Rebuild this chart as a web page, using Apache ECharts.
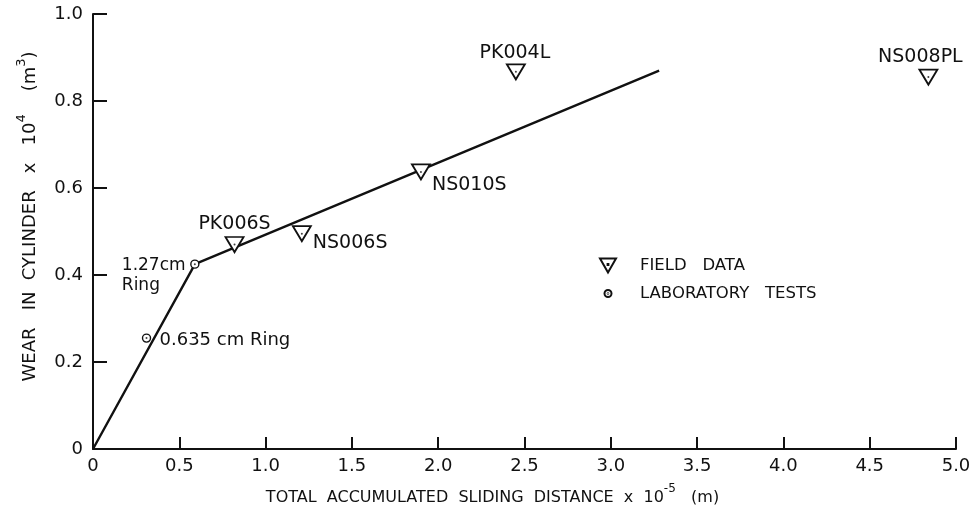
<!DOCTYPE html>
<html>
<head>
<meta charset="utf-8">
<script src="https://cdn.jsdelivr.net/npm/echarts@6/dist/echarts.min.js"></script>
<style>
html,body{margin:0;padding:0;background:#fff;}
#chart{width:974px;height:515px;}
</style>
</head>
<body>
<div id="chart"></div>
<script>
// ---- data ----
const xTicks = [0, 0.5, 1.0, 1.5, 2.0, 2.5, 3.0, 3.5, 4.0, 4.5, 5.0];
const yTicks = [0, 0.2, 0.4, 0.6, 0.8, 1.0];
const fitLineX = [0, 0.57, 0.59, 3.28];
const fitLineY = [0, 0.41, 0.425, 0.87];
const fieldNames = ['PK006S', 'NS006S', 'NS010S', 'PK004L', 'NS008PL'];
const fieldX = [0.82, 1.21, 1.90, 2.45, 4.84];
const fieldY = [0.47, 0.495, 0.637, 0.867, 0.855];
const labNames = ['1.27cm\nRing', '0.635 cm Ring'];
const labX = [0.59, 0.31];
const labY = [0.425, 0.255];
const legendNames = ['FIELD   DATA', 'LABORATORY   TESTS'];

// ---- styling ----
const FONT = 'DejaVu Sans';
const labelStyle = {
  'PK006S': {align: 'center', offset: [0, -20], size: 19},
  'NS006S': {align: 'left', offset: [11, 9], size: 19},
  'NS010S': {align: 'left', offset: [11, 13], size: 19},
  'PK004L': {align: 'center', offset: [-1, -19], size: 19},
  'NS008PL': {align: 'center', offset: [-8, -20], size: 19},
  '1.27cm\nRing': {align: 'left', offset: [-73, 11], size: 17},
  '0.635 cm Ring': {align: 'left', offset: [13, 2], size: 18}
};
const triPath = 'path://M0,0 L20,0 L10,17 Z';
const circPath = 'path://M0,5 A5,5 0 1,1 10,5 A5,5 0 1,1 0,5 Z';
const triLegend = 'path://M0,0 L16,0 L8,14 Z M7.6,5.6 L8.4,5.6 L8.4,6.4 L7.6,6.4 Z';
const circLegend = 'path://M0,0 M16,14 M4.5,7 A3.5,3.5 0 1,1 11.5,7 A3.5,3.5 0 1,1 4.5,7 Z M7.7,7 A0.3,0.3 0 1,1 8.3,7 A0.3,0.3 0 1,1 7.7,7 Z';

function pointLabel(n) {
  const s = labelStyle[n];
  return {show: true, position: 'inside', align: s.align, verticalAlign: 'middle',
    offset: s.offset, fontSize: s.size, lineHeight: 20};
}
const fieldData = fieldNames.map((n, i) => ({name: n, value: [fieldX[i], fieldY[i]], label: pointLabel(n)}));
const labData = labNames.map((n, i) => ({name: n, value: [labX[i], labY[i]], label: pointLabel(n)}));
const dotData = fieldX.map((x, i) => [x, fieldY[i]]).concat(labX.map((x, i) => [x, labY[i]]));

const chart = echarts.init(document.getElementById('chart'), null, {renderer: 'canvas'});
const labelText = {color: '#111', fontFamily: FONT, fontSize: 18, formatter: p => p.name};
const fmt = v => v === 0 ? '0' : v.toFixed(1);
const nameRich = {
  t: {fontFamily: FONT, fontSize: 16, color: '#111', lineHeight: 30},
  s: {fontFamily: FONT, fontSize: 12, color: '#111', lineHeight: 12, verticalAlign: 'top'}
};
const nameRichY = {
  t: {fontFamily: FONT, fontSize: 18, color: '#111', lineHeight: 30},
  s: {fontFamily: FONT, fontSize: 13, color: '#111', lineHeight: 12, verticalAlign: 'top'}
};

chart.setOption({
  animation: false,
  backgroundColor: '#fff',
  textStyle: {fontFamily: FONT, color: '#111'},
  grid: {left: 93, right: 18, top: 14, bottom: 66},
  xAxis: {
    type: 'value', min: xTicks[0], max: xTicks[xTicks.length - 1], interval: 0.5,
    axisLine: {show: true, lineStyle: {color: '#111', width: 2}},
    axisTick: {show: true, inside: true, length: 12, lineStyle: {color: '#111', width: 2}},
    splitLine: {show: false},
    axisLabel: {margin: 8, color: '#111', fontFamily: FONT, fontSize: 18, formatter: fmt},
    name: '{t|TOTAL  ACCUMULATED  SLIDING  DISTANCE  x  10}{s|-5}{t|   (m)}',
    nameLocation: 'middle', nameGap: 34,
    nameTextStyle: {padding: [0, 64, 0, 0], rich: nameRich}
  },
  yAxis: {
    type: 'value', min: yTicks[0], max: yTicks[yTicks.length - 1], interval: 0.2,
    axisLine: {show: true, lineStyle: {color: '#111', width: 2}},
    axisTick: {show: true, inside: true, length: 14, lineStyle: {color: '#111', width: 2}},
    splitLine: {show: false},
    axisLabel: {margin: 10, color: '#111', fontFamily: FONT, fontSize: 18, formatter: fmt},
    name: '{t|WEAR   IN  CYLINDER   x   10}{s|4}{t|    (m}{s|3}{t|)}',
    nameLocation: 'middle', nameRotate: 90, nameGap: 48,
    nameTextStyle: {padding: [0, 0, 0, 30], rich: nameRichY}
  },
  legend: {
    orient: 'vertical', left: 594, top: 252, itemGap: 11, itemWidth: 16, itemHeight: 14,
    textStyle: {fontFamily: FONT, fontSize: 16.5, color: '#111', padding: [0, 0, 0, 19]},
    data: [
      {name: legendNames[0], icon: triLegend},
      {name: legendNames[1], icon: circLegend}
    ]
  },
  series: [
    {
      type: 'line', data: fitLineX.map((x, i) => [x, fitLineY[i]]), showSymbol: false, symbol: 'none',
      lineStyle: {color: '#111', width: 2.4}, silent: true, z: 2
    },
    {
      name: legendNames[0], type: 'scatter', data: fieldData, symbol: triPath, symbolSize: [18, 15],
      itemStyle: {color: '#fff', borderColor: '#111', borderWidth: 1.8, opacity: 1},
      label: labelText, z: 3
    },
    {
      name: legendNames[1], type: 'scatter', data: labData, symbol: circPath, symbolSize: 8,
      itemStyle: {color: '#fff', borderColor: '#111', borderWidth: 1.4, opacity: 1},
      label: labelText, z: 3
    },
    {
      name: 'dots', type: 'scatter', data: dotData, symbol: 'circle', symbolSize: 2,
      itemStyle: {color: '#111'}, silent: true, z: 4
    }
  ]
});
</script>
</body>
</html>
